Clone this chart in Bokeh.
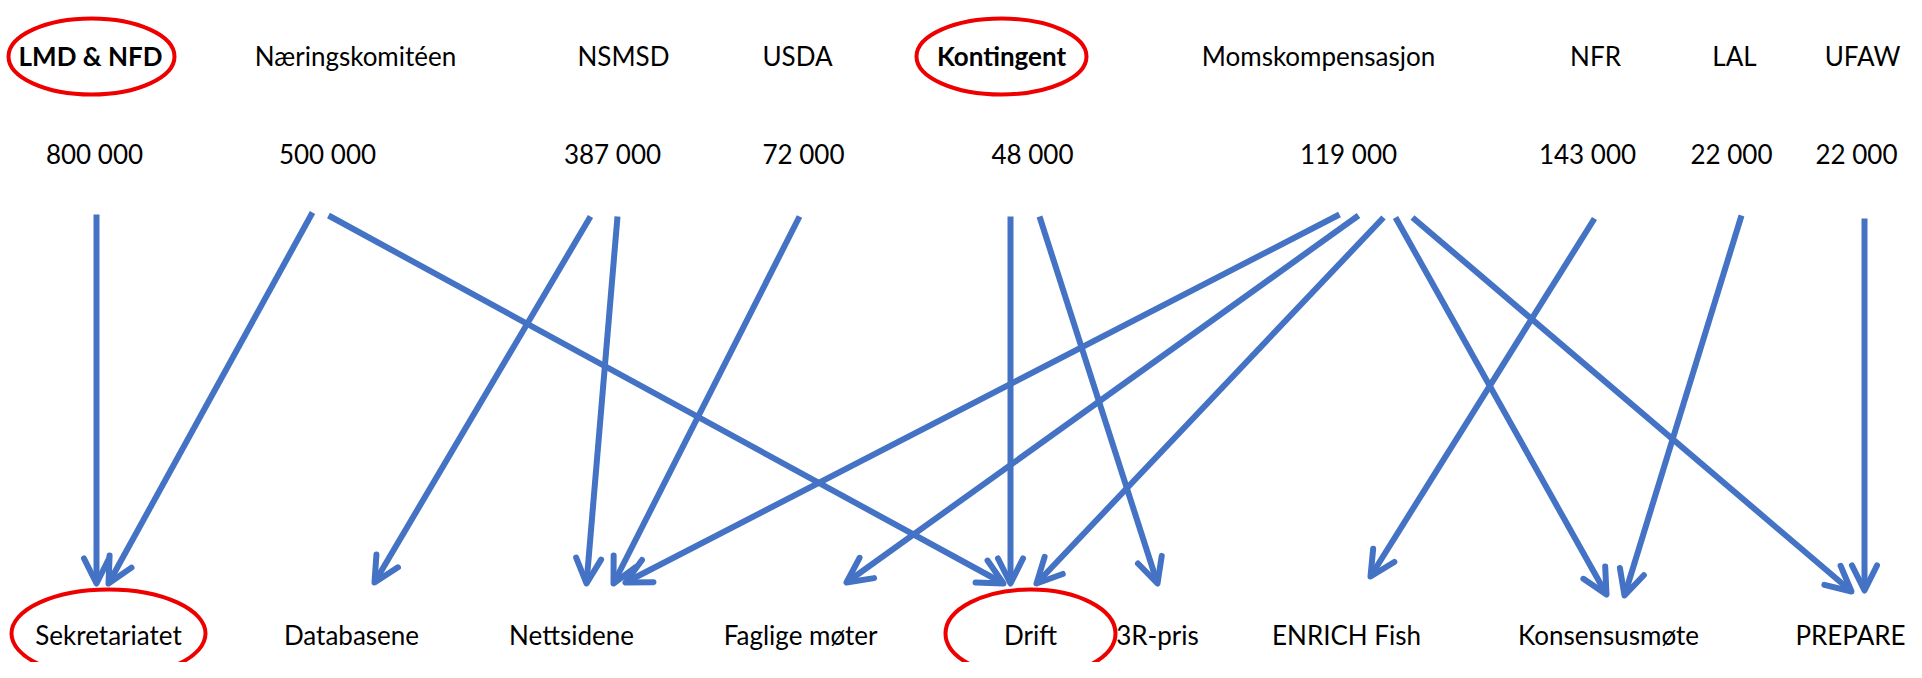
from bokeh.plotting import figure
from bokeh.models import Range1d, Arrow, OpenHead, ColumnDataSource
from bokeh.core.properties import value
from bokeh.embed import file_html
from bokeh.resources import INLINE

# ---- data ----
sources = ["LMD & NFD", "Næringskomitéen", "NSMSD", "USDA", "Kontingent",
           "Momskompensasjon", "NFR", "LAL", "UFAW"]
amounts = ["800 000", "500 000", "387 000", "72 000", "48 000",
           "119 000", "143 000", "22 000", "22 000"]
targets = ["Sekretariatet", "Databasene", "Nettsidene", "Faglige møter", "Drift",
           "3R-pris", "ENRICH Fish", "Konsensusmøte", "PREPARE"]
highlighted_sources = ["LMD & NFD", "Kontingent"]
highlighted_targets = ["Sekretariatet", "Drift"]
edge_from = [0, 1, 1, 2, 2, 3, 4, 4, 5, 5, 5, 5, 5, 6, 7, 8]
edge_to = [0, 0, 4, 1, 2, 2, 4, 5, 2, 3, 4, 7, 8, 6, 7, 8]

# ---- layout (pixel space) ----
source_x = [90, 355, 623, 797, 1001, 1318, 1595, 1734, 1862]
amount_x = [94, 327, 612, 803, 1032, 1348, 1587, 1731, 1856]
target_x = [108, 351, 571, 800, 1030, 1157, 1346, 1608, 1850]
source_y, amount_y, target_y = 55, 153, 634
edge_x0 = [96, 312, 328, 590, 617, 799, 1010, 1039, 1339, 1358, 1383, 1395, 1412, 1594, 1741, 1864]
edge_x1 = [96, 108, 1003, 374, 586, 613, 1010, 1157, 625, 846, 1036, 1606, 1851, 1370, 1624, 1864]
edge_y0 = [214, 212, 215, 216, 216, 216, 216, 216, 214, 215, 217, 217, 217, 218, 215, 218]
edge_y1 = [583, 583, 583, 582, 583, 583, 583, 583, 582, 582, 583, 594, 591, 576, 595, 590]

W, H = 1906, 662
p = figure(width=W, height=H, output_backend="svg", toolbar_location=None,
           x_range=Range1d(0, W), y_range=Range1d(H, 0),
           min_border=0)
p.axis.visible = False
p.grid.visible = False
p.outline_line_color = None
p.background_fill_color = "white"
p.border_fill_color = "white"

blue = "#4472C4"
for i in range(len(edge_from)):
    p.add_layout(Arrow(end=OpenHead(line_color=blue, line_width=6, size=25,
                                    line_cap="round", line_join="round"),
                       x_start=edge_x0[i], y_start=edge_y0[i],
                       x_end=edge_x1[i], y_end=edge_y1[i],
                       line_color=blue, line_width=6))

font = value("Lato")
fs = "26px"
src_norm = ColumnDataSource(dict(
    x=[source_x[i] for i, s in enumerate(sources) if s not in highlighted_sources],
    t=[s for s in sources if s not in highlighted_sources]))
src_bold = ColumnDataSource(dict(
    x=[source_x[i] for i, s in enumerate(sources) if s in highlighted_sources],
    t=[s for s in sources if s in highlighted_sources]))
p.text(x="x", y=source_y, text="t", source=src_norm, text_font=font,
       text_font_size=fs, text_align="center", text_baseline="middle", text_color="black")
p.text(x="x", y=source_y, text="t", source=src_bold, text_font=font,
       text_font_size=fs, text_font_style="bold", text_align="center",
       text_baseline="middle", text_color="black")
p.text(x=amount_x, y=[amount_y] * len(amounts), text=amounts, text_font=font,
       text_font_size=fs, text_align="center", text_baseline="middle", text_color="black")
p.text(x=target_x, y=[target_y] * len(targets), text=targets, text_font=font,
       text_font_size=fs, text_align="center", text_baseline="middle", text_color="black")

# highlight ellipses
ell_x = [91, 1001, 108, 1030]
ell_y = [56, 56, 633, 633]
ell_w = [166, 170, 194, 170]
ell_h = [76, 76, 88, 88]
p.ellipse(x=ell_x, y=ell_y, width=ell_w, height=ell_h, fill_color=None,
          line_color="#EE0000", line_width=4)

open("out.html", "w").write(file_html(p, INLINE))
